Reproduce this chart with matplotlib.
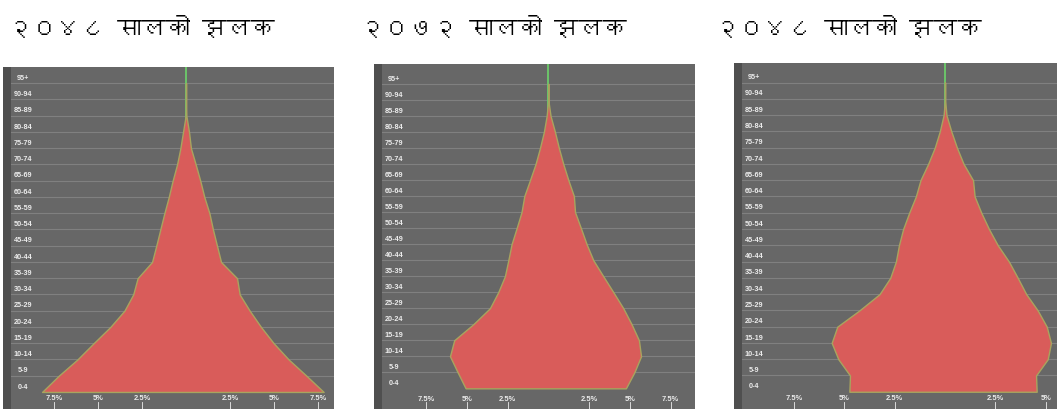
import numpy as np
import matplotlib
matplotlib.use("Agg")
import matplotlib.pyplot as plt
import matplotlib.transforms as mtransforms
from matplotlib import font_manager
from matplotlib.ft2font import FT2Font

AGE_GROUPS = ["0-4", "5-9", "10-14", "15-19", "20-24", "25-29", "30-34",
              "35-39", "40-44", "45-49", "50-54", "55-59", "60-64", "65-69",
              "70-74", "75-79", "80-84", "85-89", "90-94", "95+"]

TITLES = ["२०४८ सालको झलक", "२०७२ सालको झलक", "२०४८ सालको झलक"]

TICK_VALUES = [-7.5, -5, -2.5, 2.5, 5, 7.5]
TICK_LABELS = ["7.5%", "5%", "2.5%", "2.5%", "5%", "7.5%"]

# percent of population, left / right half of each pyramid
left_1 = [8.18, 7.23, 6.17, 5.25, 4.3, 3.5, 3.0, 2.75, 1.93, 1.69,
          1.46, 1.23, 0.98, 0.76, 0.51, 0.32, 0.17, 0.02, 0, 0]
right_1 = [7.82, 6.84, 5.83, 4.98, 4.26, 3.62, 3.05, 2.9, 1.99, 1.76,
           1.53, 1.33, 1.04, 0.81, 0.55, 0.28, 0.17, 0.02, 0, 0]

left_2 = [5.07, 5.56, 6.03, 5.77, 4.6, 3.58, 3.07, 2.66, 2.45, 2.25,
          1.94, 1.64, 1.47, 1.12, 0.78, 0.51, 0.27, 0.10, 0, 0]
right_2 = [4.76, 5.28, 5.69, 5.56, 5.11, 4.6, 3.99, 3.37, 2.76, 2.35,
           2.0, 1.64, 1.57, 1.23, 0.92, 0.65, 0.41, 0.14, 0, 0]

left_3 = [4.75, 4.72, 5.3, 5.63, 5.35, 4.25, 3.25, 2.72, 2.44, 2.29,
          2.08, 1.78, 1.45, 1.22, 0.84, 0.51, 0.26, 0.07, 0, 0]
right_3 = [4.55, 4.52, 5.1, 5.26, 5.05, 4.6, 4.03, 3.61, 3.17, 2.62,
           2.18, 1.8, 1.47, 1.39, 0.92, 0.59, 0.31, 0.07, 0, 0]

BG = "#676767"
STRIP = "#4f4f4f"
GRID = "#808080"
FILL = "#d95c5a"
EDGE = "#a8a45e"
CENTER = "#6ccb6a"
LABEL = "#ececec"


def _devanagari_family():
    for entry in font_manager.fontManager.ttflist:
        try:
            cmap = FT2Font(entry.fname).get_charmap()
        except Exception:
            continue
        if 0x0915 in cmap and 0x0968 in cmap:
            return entry.name
    return None


def draw_pyramid(fig, rect, left, right, xlim, ylim):
    ax = fig.add_axes(rect)
    ax.set_facecolor(BG)
    ax.set_xlim(*xlim)
    ax.set_ylim(*ylim)
    for s in ax.spines.values():
        s.set_visible(False)
    ax.set_xticks([])
    ax.set_yticks([])

    y = np.arange(len(AGE_GROUPS))
    ax.hlines(y[1:], xlim[0], xlim[1], color=GRID, lw=0.8, zorder=1)
    ax.vlines(0, 0, ylim[1], color=CENTER, lw=1.3, zorder=2)
    ax.fill_betweenx(y, -np.array(left), np.array(right),
                     facecolor=FILL, edgecolor=EDGE, lw=1.0, zorder=3)

    # darker strip on the left edge
    ax.add_patch(plt.Rectangle((0, 0), 8 / (rect[2] * 1057), 1,
                               transform=ax.transAxes, color=STRIP,
                               lw=0, zorder=4))

    trans = mtransforms.blended_transform_factory(ax.transAxes, ax.transData)
    for i, lab in enumerate(AGE_GROUPS):
        ax.annotate(lab, xy=(0, i + 0.3), xycoords=trans,
                    xytext=(14.6, 0), textcoords="offset points",
                    ha="center", va="center", fontsize=5.2,
                    fontweight="bold", color=LABEL,
                    family="Liberation Sans", zorder=5)

    for v, lab in zip(TICK_VALUES, TICK_LABELS):
        if not xlim[0] < v < xlim[1]:
            continue
        ax.text(v, ylim[0] + 0.62, lab, ha="center", va="center",
                fontsize=5.4, fontweight="bold", color=LABEL,
                family="Liberation Sans", zorder=5)
        ax.plot([v, v], [ylim[0] + 0.45, ylim[0]], color=LABEL,
                lw=0.6, zorder=5)
    return ax


fig = plt.figure(figsize=(10.57, 4.09), dpi=100)
W, H = 1057, 409

panels = [
    (left_1, right_1, 3, 334, 67, (-10.4, 8.41), (-1.05, 20.0)),
    (left_2, right_2, 374, 695, 64, (-10.69, 9.0), (-1.29, 20.24)),
    (left_3, right_3, 734, 1057, 63, (-10.48, 5.56), (-1.06, 20.2)),
]
for left, right, x0, x1, top, xlim, ylim in panels:
    rect = [x0 / W, 0, (x1 - x0) / W, (H - top) / H]
    draw_pyramid(fig, rect, left, right, xlim, ylim)

dev = _devanagari_family()
families = [dev, "DejaVu Sans"] if dev else ["DejaVu Sans"]
title_x = [8, 360, 715]
for tx, title in zip(title_x, TITLES):
    fig.text(tx / W, 1 - 28 / H, title, ha="left", va="center",
             fontsize=17.5, family=families, color="black")

fig.savefig("out.png", dpi=100, facecolor="white")
